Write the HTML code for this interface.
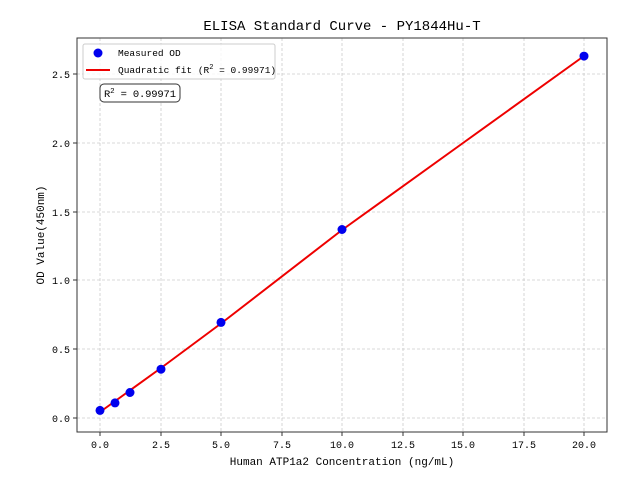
<!DOCTYPE html>
<html><head><meta charset="utf-8"><style>body{margin:0;background:#fff}svg{display:block}text{font-family:"Liberation Mono","WenQuanYi Zen Hei",monospace;fill:#000}</style></head>
<body>
<svg width="640" height="480" viewBox="0 0 640 480">
<rect width="640" height="480" fill="#fff"/>
<g stroke="#ccc" stroke-width="0.8" stroke-dasharray="3,2">
<line x1="100" y1="38" x2="100" y2="432"/><line x1="161" y1="38" x2="161" y2="432"/><line x1="221" y1="38" x2="221" y2="432"/><line x1="282" y1="38" x2="282" y2="432"/><line x1="342" y1="38" x2="342" y2="432"/><line x1="403" y1="38" x2="403" y2="432"/><line x1="463" y1="38" x2="463" y2="432"/><line x1="524" y1="38" x2="524" y2="432"/><line x1="584" y1="38" x2="584" y2="432"/>
<line x1="77" y1="418" x2="607" y2="418"/><line x1="77" y1="349" x2="607" y2="349"/><line x1="77" y1="280" x2="607" y2="280"/><line x1="77" y1="212" x2="607" y2="212"/><line x1="77" y1="143" x2="607" y2="143"/><line x1="77" y1="74" x2="607" y2="74"/>
</g>
<polyline fill="none" stroke="#e00" stroke-width="2" points="100,412 161,368 221,323.5 342,230 463,143 584,56"/>
<g fill="#0000ee">
<circle cx="100" cy="410.4" r="4.5"/><circle cx="115" cy="402.9" r="4.5"/><circle cx="130" cy="392.5" r="4.5"/><circle cx="161" cy="369.2" r="4.5"/><circle cx="221" cy="322.4" r="4.5"/><circle cx="342" cy="229.5" r="4.5"/><circle cx="584" cy="56.1" r="4.5"/>
</g>
<rect x="77" y="38" width="530" height="394" fill="none" stroke="#333" stroke-width="1"/>
<g stroke="#333"><line x1="100" y1="432" x2="100" y2="436"/><line x1="161" y1="432" x2="161" y2="436"/><line x1="221" y1="432" x2="221" y2="436"/><line x1="282" y1="432" x2="282" y2="436"/><line x1="342" y1="432" x2="342" y2="436"/><line x1="403" y1="432" x2="403" y2="436"/><line x1="463" y1="432" x2="463" y2="436"/><line x1="524" y1="432" x2="524" y2="436"/><line x1="584" y1="432" x2="584" y2="436"/>
<line x1="73" y1="418" x2="77" y2="418"/><line x1="73" y1="349" x2="77" y2="349"/><line x1="73" y1="280" x2="77" y2="280"/><line x1="73" y1="212" x2="77" y2="212"/><line x1="73" y1="143" x2="77" y2="143"/><line x1="73" y1="74" x2="77" y2="74"/></g>
<g font-size="10" text-anchor="middle">
<text x="100" y="448">0.0</text><text x="161" y="448">2.5</text><text x="221" y="448">5.0</text><text x="282" y="448">7.5</text><text x="342" y="448">10.0</text><text x="403" y="448">12.5</text><text x="463" y="448">15.0</text><text x="524" y="448">17.5</text><text x="584" y="448">20.0</text>
</g>
<g font-size="10" text-anchor="end">
<text x="70" y="422">0.0</text><text x="70" y="353">0.5</text><text x="70" y="284">1.0</text><text x="70" y="216">1.5</text><text x="70" y="147">2.0</text><text x="70" y="78">2.5</text>
</g>
<text x="342" y="465" font-size="11" text-anchor="middle">Human ATP1a2 Concentration (ng/mL)</text>
<text transform="translate(44,235) rotate(-90)" font-size="11" text-anchor="middle">OD Value(450nm)</text>
<text x="342" y="30" font-size="14" text-anchor="middle">ELISA Standard Curve - PY1844Hu-T</text>
<rect x="83" y="44" width="192" height="35" rx="2" fill="#fff" fill-opacity="0.8" stroke="#ccc"/>
<circle cx="98" cy="53" r="4.5" fill="#0000ee"/>
<text x="118" y="56" font-size="9.5">Measured OD</text>
<line x1="86" y1="70" x2="110" y2="70" stroke="#e00" stroke-width="2"/>
<text x="118" y="73" font-size="9.5">Quadratic fit (R<tspan font-size="7" dy="-4">2</tspan><tspan dy="4"> = 0.99971)</tspan></text>
<rect x="100" y="84" width="80" height="18" rx="4" fill="#fff" stroke="#333"/>
<text x="104" y="97" font-size="10.5" textLength="72">R<tspan font-size="7.5" dy="-4">2</tspan><tspan dy="4"> = 0.99971</tspan></text>
</svg>
</body></html>
